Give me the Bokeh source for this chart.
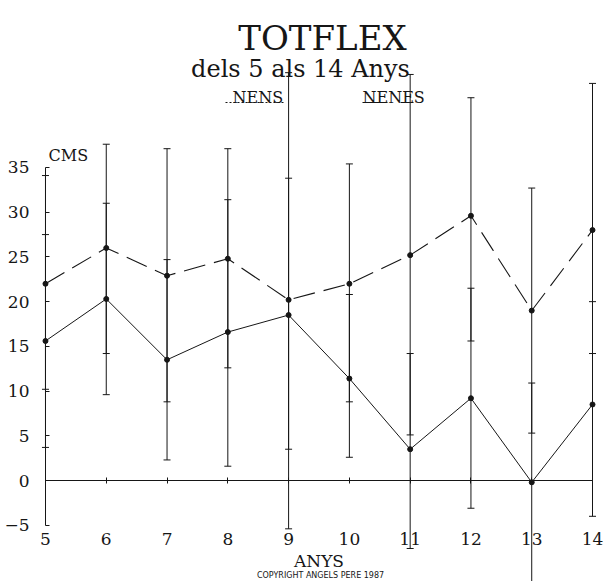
from bokeh.plotting import figure
from bokeh.models import (LinearAxis, FixedTicker, Label, Arrow, Whisker,
                          ColumnDataSource, Range1d)
from bokeh.embed import file_html
from bokeh.resources import INLINE

# Flexibility (cm) by age, boys (NENS) and girls (NENES): means and bar limits
ages = [5, 6, 7, 8, 9, 10, 11, 12, 13, 14]

nens_mean = [15.6, 20.3, 13.5, 16.6, 18.5, 11.4, 3.5, 9.2, -0.2, 8.5]
nens_low = [3.7, 9.6, 2.3, 1.6, 3.5, 2.6, -7.6, -3.1, -11.6, -4.0]
nens_high = [27.5, 31.0, 24.7, 31.4, 33.8, 20.8, 14.2, 21.5, 10.9, 20.0]

nenes_mean = [22.0, 26.0, 22.9, 24.8, 20.2, 22.0, 25.2, 29.6, 19.0, 28.0]
nenes_low = [10.2, 14.2, 8.8, 12.6, -5.4, 8.8, 5.1, 15.6, 5.3, 14.2]
nenes_high = [34.1, 37.6, 37.1, 37.1, 45.6, 35.4, 45.4, 42.8, 32.7, 44.4]

y_ticks = [-5, 0, 5, 10, 15, 20, 25, 30, 35]

W, H = 608, 581
SERIF = "DejaVu Serif"
INK = "#161616"

p = figure(width=W, height=H,
           x_range=Range1d(4.26, 14.263), y_range=Range1d(-11.29, 53.67),
           x_axis_type=None, y_axis_type=None,
           toolbar_location=None, output_backend="svg",
           min_border=0, outline_line_color=None,
           background_fill_color="white", border_fill_color="white")

# axes drawn through the data: x axis on the zero line, y axis at age 5
xaxis = LinearAxis(fixed_location=0, ticker=FixedTicker(ticks=ages), bounds=(5, 14),
                   axis_label="ANYS", axis_label_standoff=3,
                   axis_label_text_font=SERIF, axis_label_text_font_size="17px",
                   axis_label_text_font_style="normal", axis_label_text_color=INK,
                   major_label_text_font=SERIF, major_label_text_font_size="17px",
                   major_label_text_color=INK, major_label_standoff=49,
                   major_tick_in=3, major_tick_out=3, minor_tick_in=0, minor_tick_out=0,
                   axis_line_color=INK, major_tick_line_color=INK)
p.add_layout(xaxis, "below")

yaxis = LinearAxis(fixed_location=5, ticker=FixedTicker(ticks=y_ticks), bounds=(-5, 35),
                   major_label_text_font=SERIF, major_label_text_font_size="17px",
                   major_label_text_color=INK, major_label_standoff=16,
                   major_tick_in=4, major_tick_out=0, minor_tick_in=0, minor_tick_out=0,
                   axis_line_color=INK, major_tick_line_color=INK)
p.add_layout(yaxis, "left")

src = ColumnDataSource(dict(age=ages,
                            nens_mean=nens_mean, nens_low=nens_low, nens_high=nens_high,
                            nenes_mean=nenes_mean, nenes_low=nenes_low, nenes_high=nenes_high))

for lo, hi in (("nens_low", "nens_high"), ("nenes_low", "nenes_high")):
    wk = Whisker(source=src, base="age", lower=lo, upper=hi, dimension="height",
                 line_color=INK, line_width=1)
    wk.upper_head.size = 7
    wk.lower_head.size = 7
    wk.upper_head.line_color = INK
    wk.lower_head.line_color = INK
    p.add_layout(wk)

p.line("age", "nens_mean", source=src, line_color=INK, line_width=1)
p.line("age", "nenes_mean", source=src, line_color=INK, line_width=1.1, line_dash="22 9")
p.scatter("age", "nens_mean", source=src, size=5, color=INK)
p.scatter("age", "nenes_mean", source=src, size=5, color=INK)


def screen_label(text, x, y_top, size, font=SERIF, align="left"):
    p.add_layout(Label(text=text, x=x, y=H - y_top, x_units="screen", y_units="screen",
                       text_font=font, text_font_size=size, text_color=INK,
                       text_align=align, text_baseline="alphabetic"))


screen_label("TOTFLEX", 322, 37, "34px", align="center")
screen_label("dels 5 als 14 Anys", 300, 68, "24px", align="center")
screen_label("NENS", 232, 97, "16px")
screen_label("NENES", 362, 97, "16px")
screen_label("CMS", 48, 155, "16px")
screen_label("COPYRIGHT ANGELS PERE 1987", 320, 575, "8px", font="DejaVu Sans", align="center")

# legend underlines, each in its series' stroke
p.add_layout(Arrow(end=None, x_start=225, y_start=H - 102, x_end=283, y_end=H - 102,
                   start_units="screen", end_units="screen",
                   line_color=INK, line_width=1, line_dash="2 2"))
p.add_layout(Arrow(end=None, x_start=362, y_start=H - 102, x_end=413, y_end=H - 102,
                   start_units="screen", end_units="screen",
                   line_color=INK, line_width=1, line_dash="25 13"))

open("out.html", "w").write(file_html(p, INLINE))
